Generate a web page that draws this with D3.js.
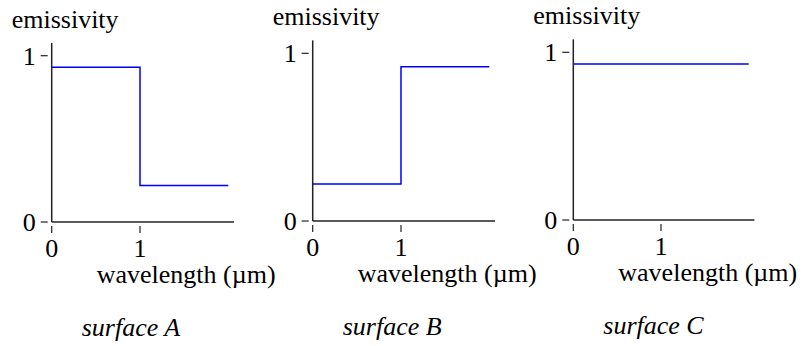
<!DOCTYPE html>
<html><head><meta charset="utf-8">
<script src="https://cdn.jsdelivr.net/npm/d3@7"></script>
<style>html,body{margin:0;padding:0;background:#fff;}</style>
</head>
<body>
<svg id="chart" width="803" height="346"></svg>
<script>
// Data
const surfaces = ["surface A", "surface B", "surface C"];
const wavelengthsA = [0, 1, 1, 2];
const emissivityA = [0.93, 0.93, 0.22, 0.22];
const wavelengthsB = [0, 1, 1, 2];
const emissivityB = [0.22, 0.22, 0.92, 0.92];
const wavelengthsC = [0, 2];
const emissivityC = [0.93, 0.93];
const xTicks = [0, 1];
const yTicks = [0, 1];
const yLabel = "emissivity";
const xLabel = "wavelength (\u00b5m)";

const series = [
  {name: surfaces[0], xs: wavelengthsA, ys: emissivityA},
  {name: surfaces[1], xs: wavelengthsB, ys: emissivityB},
  {name: surfaces[2], xs: wavelengthsC, ys: emissivityC}
];
const layout = [
  {ox: 51.7, y0: 222, y1: 55.7, unit: 88.3},
  {ox: 312.7, y0: 221, y1: 53.3, unit: 88.3},
  {ox: 573.3, y0: 220, y1: 52.3, unit: 87.7}
];

const svg = d3.select("#chart");

function txt(x, y, s, anchor, italic) {
  const t = svg.append("text").attr("x", x).attr("y", y);
  if (anchor) t.attr("text-anchor", anchor);
  t.style("font-family", '"Liberation Serif"').style("font-size", "26px");
  if (italic) t.style("font-style", "italic");
  t.text(s);
  return t;
}

series.forEach((s, i) => {
  const L = layout[i];
  const x = d3.scaleLinear().domain([0, 1]).range([L.ox, L.ox + L.unit]);
  const y = d3.scaleLinear().domain([0, 1]).range([L.y0, L.y1]);

  svg.append("line").attr("x1", x(0)).attr("x2", x(0))
    .attr("y1", y(1.077)).attr("y2", y(0))
    .attr("stroke", "#222").attr("stroke-width", 1.5);
  svg.append("line").attr("x1", x(0)).attr("x2", x(2.065))
    .attr("y1", y(0)).attr("y2", y(0))
    .attr("stroke", "#222").attr("stroke-width", 1.5);

  yTicks.forEach(t => {
    svg.append("line").attr("x1", x(0) - 11).attr("x2", x(0) - 4)
      .attr("y1", y(t)).attr("y2", y(t))
      .attr("stroke", "#222").attr("stroke-width", 1.2);
    txt(x(0) - 16, y(t) + 9, String(t), "end");
  });
  xTicks.forEach(t => {
    svg.append("line").attr("x1", x(t)).attr("x2", x(t))
      .attr("y1", y(0) + 4).attr("y2", y(0) + 11)
      .attr("stroke", "#222").attr("stroke-width", 1.2);
    txt(x(t), y(0) + 35, String(t), "middle");
  });

  const pts = s.xs.map((v, k) => [v, s.ys[k]]);
  svg.append("path").datum(pts)
    .attr("d", d3.line().x(d => x(d[0])).y(d => y(d[1])))
    .attr("fill", "none").attr("stroke", "#0000ff").attr("stroke-width", 1.5);

  txt(x(0) - 40, y(1) - 28, yLabel);
  txt(x(0) + 45, y(0) + 61, xLabel);
  txt(x(0) + 30, y(0) + 114, s.name, null, true);
});
</script>
</body></html>
